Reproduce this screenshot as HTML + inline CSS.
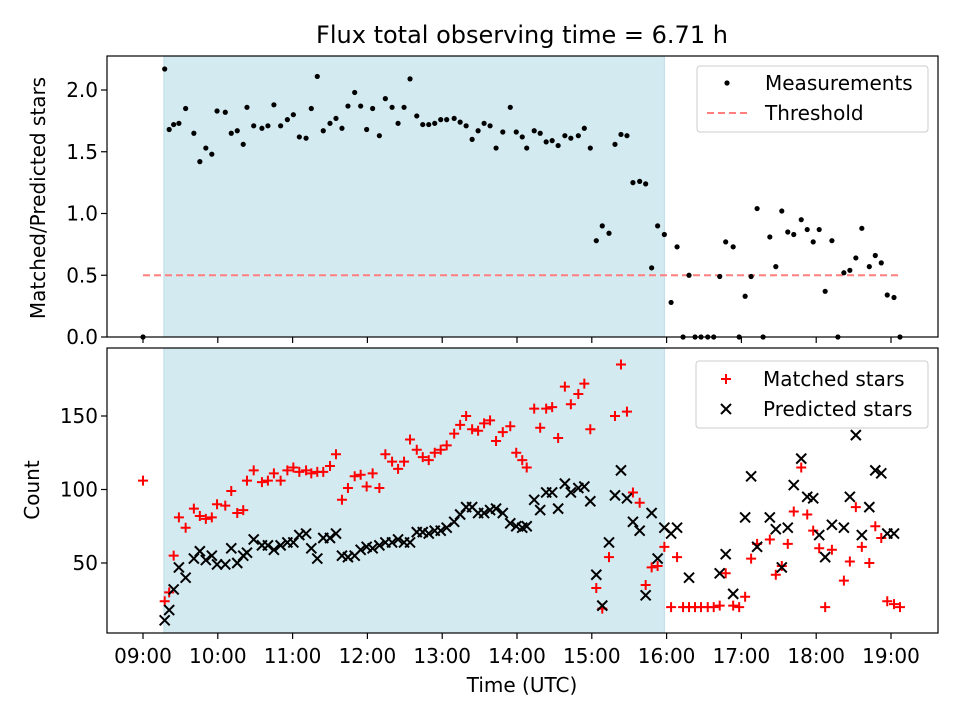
<!DOCTYPE html>
<html><head><meta charset="utf-8"><style>
body{margin:0;background:#fff;}
svg{display:block;font-family:"DejaVu Sans","Liberation Sans",sans-serif;}
</style></head><body>
<svg id="chart" width="960" height="720" viewBox="0 0 960 720" xmlns="http://www.w3.org/2000/svg">
<rect width="960" height="720" fill="#fff"/>
<text x="522" y="43" font-size="24" text-anchor="middle">Flux total observing time = 6.71 h</text>
<g id="topPanel"></g>
<g id="botPanel"></g>
<text transform="translate(45,198) rotate(-90)" font-size="20" text-anchor="middle">Matched/Predicted stars</text>
<text transform="translate(39,490) rotate(-90)" font-size="20" text-anchor="middle">Count</text>
<text x="522" y="692" font-size="20" text-anchor="middle">Time (UTC)</text>
</svg>
<script>
const times=[9.00,9.29,9.35,9.41,9.48,9.57,9.68,9.76,9.84,9.92,
9.99,10.10,10.18,10.26,10.34,10.39,10.48,10.59,10.67,10.75,
10.84,10.93,11.01,11.09,11.18,11.25,11.33,11.41,11.50,11.58,
11.66,11.74,11.83,11.91,11.99,12.07,12.16,12.24,12.33,12.41,
12.49,12.57,12.66,12.74,12.82,12.90,12.98,13.06,13.16,13.24,
13.32,13.40,13.48,13.56,13.64,13.72,13.81,13.91,13.99,14.07,
14.13,14.23,14.31,14.39,14.47,14.55,14.64,14.72,14.82,14.90,
14.98,15.06,15.14,15.23,15.31,15.39,15.47,15.55,15.64,15.72,
15.80,15.88,15.97,16.06,16.14,16.22,16.30,16.38,16.46,16.55,
16.63,16.71,16.79,16.89,16.97,17.05,17.13,17.21,17.29,17.38,
17.46,17.54,17.62,17.70,17.80,17.88,17.96,18.04,18.12,18.21,
18.29,18.37,18.45,18.53,18.61,18.71,18.79,18.87,18.95,19.04,
19.12];
const ratios=[0,2.17,1.68,1.72,1.73,1.85,1.65,1.42,1.53,1.48,
1.83,1.82,1.65,1.67,1.56,1.86,1.71,1.69,1.71,1.88,
1.71,1.76,1.80,1.62,1.61,1.85,2.11,1.67,1.73,1.77,
1.69,1.87,1.98,1.87,1.68,1.85,1.63,1.93,1.86,1.73,
1.86,2.09,1.79,1.72,1.72,1.73,1.76,1.76,1.77,1.74,
1.71,1.60,1.67,1.73,1.71,1.53,1.66,1.86,1.66,1.62,
1.53,1.67,1.65,1.58,1.59,1.55,1.63,1.61,1.63,1.69,
1.53,0.78,0.90,0.84,1.56,1.64,1.63,1.25,1.26,1.24,
0.56,0.90,0.83,0.28,0.73,0,0.50,0,0,0,
0,0.49,0.77,0.73,0,0.33,0.49,1.04,0,0.81,
0.57,1.02,0.85,0.83,0.95,0.87,0.77,0.87,0.37,0.78,
0,0.52,0.54,0.64,0.88,0.57,0.66,0.60,0.34,0.32,
0];
const predicted=[null,11,18,32,47,40,53,58,52,55,
49,49,60,50,55,57,66,62,62,59,
62,64,64,69,70,60,53,67,67,70,
55,54,55,59,61,60,62,64,64,66,
64,64,71,71,70,72,72,74,78,83,
88,88,84,84,86,87,84,77,75,74,
75,93,86,98,98,87,104,98,101,102,
92,42,21,64,96,113,94,78,72,28,
84,53,74,70,74,null,40,null,null,null,
null,43,56,29,null,81,109,61,null,81,
73,47,74,103,121,95,94,69,54,76,
null,74,95,137,69,88,113,111,70,70,
null];
const matched=[106,24,30,55,81,74,87,82,80,81,
90,89,99,84,86,106,113,105,106,111,
106,113,115,112,113,111,112,112,116,124,
93,101,109,110,102,111,101,124,119,114,
119,134,127,122,120,125,127,130,138,144,
150,141,140,145,147,133,139,143,125,120,
115,155,142,155,156,135,170,158,165,172,
141,33,19,54,150,185,153,98,91,35,
47,48,61,20,54,20,20,20,20,20,
20,21,43,21,20,27,53,63,null,66,
42,48,63,85,115,83,72,60,20,59,
null,38,51,88,61,50,75,67,24,22,
20];
const xTicks=[9,10,11,12,13,14,15,16,17,18,19];
const xTickLabels=["09:00","10:00","11:00","12:00","13:00","14:00","15:00","16:00","17:00","18:00","19:00"];
const ratioTicks=[0,0.5,1.0,1.5,2.0];
const countTicks=[50,100,150];
const threshold=0.5;
const thresholdSpan=[9.0,19.12];
const shadeSpan=[9.28,15.97];

const NS="http://www.w3.org/2000/svg";
const L=107,R=938,T1=56,B1=337,T2=348,B2=633;
const xs=h=>143+(h-9)*74.8;
const y1=v=>337-v*123.5;
const y2=c=>636.5-c*1.47;
function mk(parent,tag,attrs){const e=document.createElementNS(NS,tag);for(const k in attrs)e.setAttribute(k,attrs[k]);parent.appendChild(e);return e;}
const topG=document.getElementById('topPanel'),botG=document.getElementById('botPanel');

[[topG,T1,B1],[botG,T2,B2]].forEach(([g,t,b],i)=>{
  const r=mk(g,'rect',{x:xs(shadeSpan[0]),y:t,width:xs(shadeSpan[1])-xs(shadeSpan[0]),height:b-t,fill:'#d4eaf1',stroke:'#b9dbe6','stroke-width':1});
  
  
});
const th=mk(topG,'line',{x1:xs(thresholdSpan[0]),x2:xs(thresholdSpan[1]),y1:y1(threshold),y2:y1(threshold),stroke:'#ff7f7f','stroke-width':2,'stroke-dasharray':'7,4'});


times.forEach((t,i)=>{if(ratios[i]==null)return;
  const c=mk(topG,'circle',{cx:xs(t),cy:y1(ratios[i]),r:2.6,fill:'#000'});
  
  
});
times.forEach((t,i)=>{if(matched[i]==null)return;const x=xs(t),y=y2(matched[i]);
  const p=mk(botG,'path',{d:`M${x-5},${y}H${x+5}M${x},${y-5}V${y+5}`,stroke:'#f00','stroke-width':2,fill:'none'});
  
  
});
times.forEach((t,i)=>{if(predicted[i]==null)return;const x=xs(t),y=y2(predicted[i]);
  const p=mk(botG,'path',{d:`M${x-5},${y-5}L${x+5},${y+5}M${x-5},${y+5}L${x+5},${y-5}`,stroke:'#000','stroke-width':2,fill:'none'});
  
  
});
[[topG,T1,B1],[botG,T2,B2]].forEach(([g,t,b],i)=>{
  const f=mk(g,'rect',{x:L,y:t,width:R-L,height:b-t,fill:'none',stroke:'#000','stroke-width':1.2});
  
  
  xTicks.forEach((h,k)=>{mk(g,'line',{x1:xs(h),x2:xs(h),y1:b,y2:b+6,stroke:'#000','stroke-width':1.2});
    if(i){const tx=mk(g,'text',{x:xs(h),y:b+30,'font-size':20,'text-anchor':'middle'});tx.textContent=xTickLabels[k];
      
      }
  });
});
ratioTicks.forEach(v=>{mk(topG,'line',{x1:L-6,x2:L,y1:y1(v),y2:y1(v),stroke:'#000','stroke-width':1.2});
  const tx=mk(topG,'text',{x:L-9,y:y1(v)+7,'font-size':20,'text-anchor':'end'});tx.textContent=v.toFixed(1);
  
  });
countTicks.forEach(v=>{mk(botG,'line',{x1:L-6,x2:L,y1:y2(v),y2:y2(v),stroke:'#000','stroke-width':1.2});
  const tx=mk(botG,'text',{x:L-9,y:y2(v)+7,'font-size':20,'text-anchor':'end'});tx.textContent=v;
  
  });

const lg1=mk(topG,'g',{});


mk(lg1,'rect',{x:697,y:66,width:231,height:66,rx:3,fill:'#fff','fill-opacity':0.8,stroke:'#ccc'});
mk(lg1,'circle',{cx:727,cy:83,r:2.6,fill:'#000'});
let t1=mk(lg1,'text',{x:765,y:90,'font-size':20});t1.textContent='Measurements';
mk(lg1,'line',{x1:707,x2:747,y1:113,y2:113,stroke:'#ff7f7f','stroke-width':2,'stroke-dasharray':'7,4'});
let t2=mk(lg1,'text',{x:765,y:120,'font-size':20});t2.textContent='Threshold';
const lg2=mk(botG,'g',{});


mk(lg2,'rect',{x:696,y:361,width:232,height:67,rx:3,fill:'#fff','fill-opacity':0.8,stroke:'#ccc'});
mk(lg2,'path',{d:'M721,379H731M726,374V384',stroke:'#f00','stroke-width':2});
let t3=mk(lg2,'text',{x:763,y:386,'font-size':20});t3.textContent='Matched stars';
mk(lg2,'path',{d:'M721,404L731,414M721,414L731,404',stroke:'#000','stroke-width':2});
let t4=mk(lg2,'text',{x:763,y:416,'font-size':20});t4.textContent='Predicted stars';
</script>
</body></html>
